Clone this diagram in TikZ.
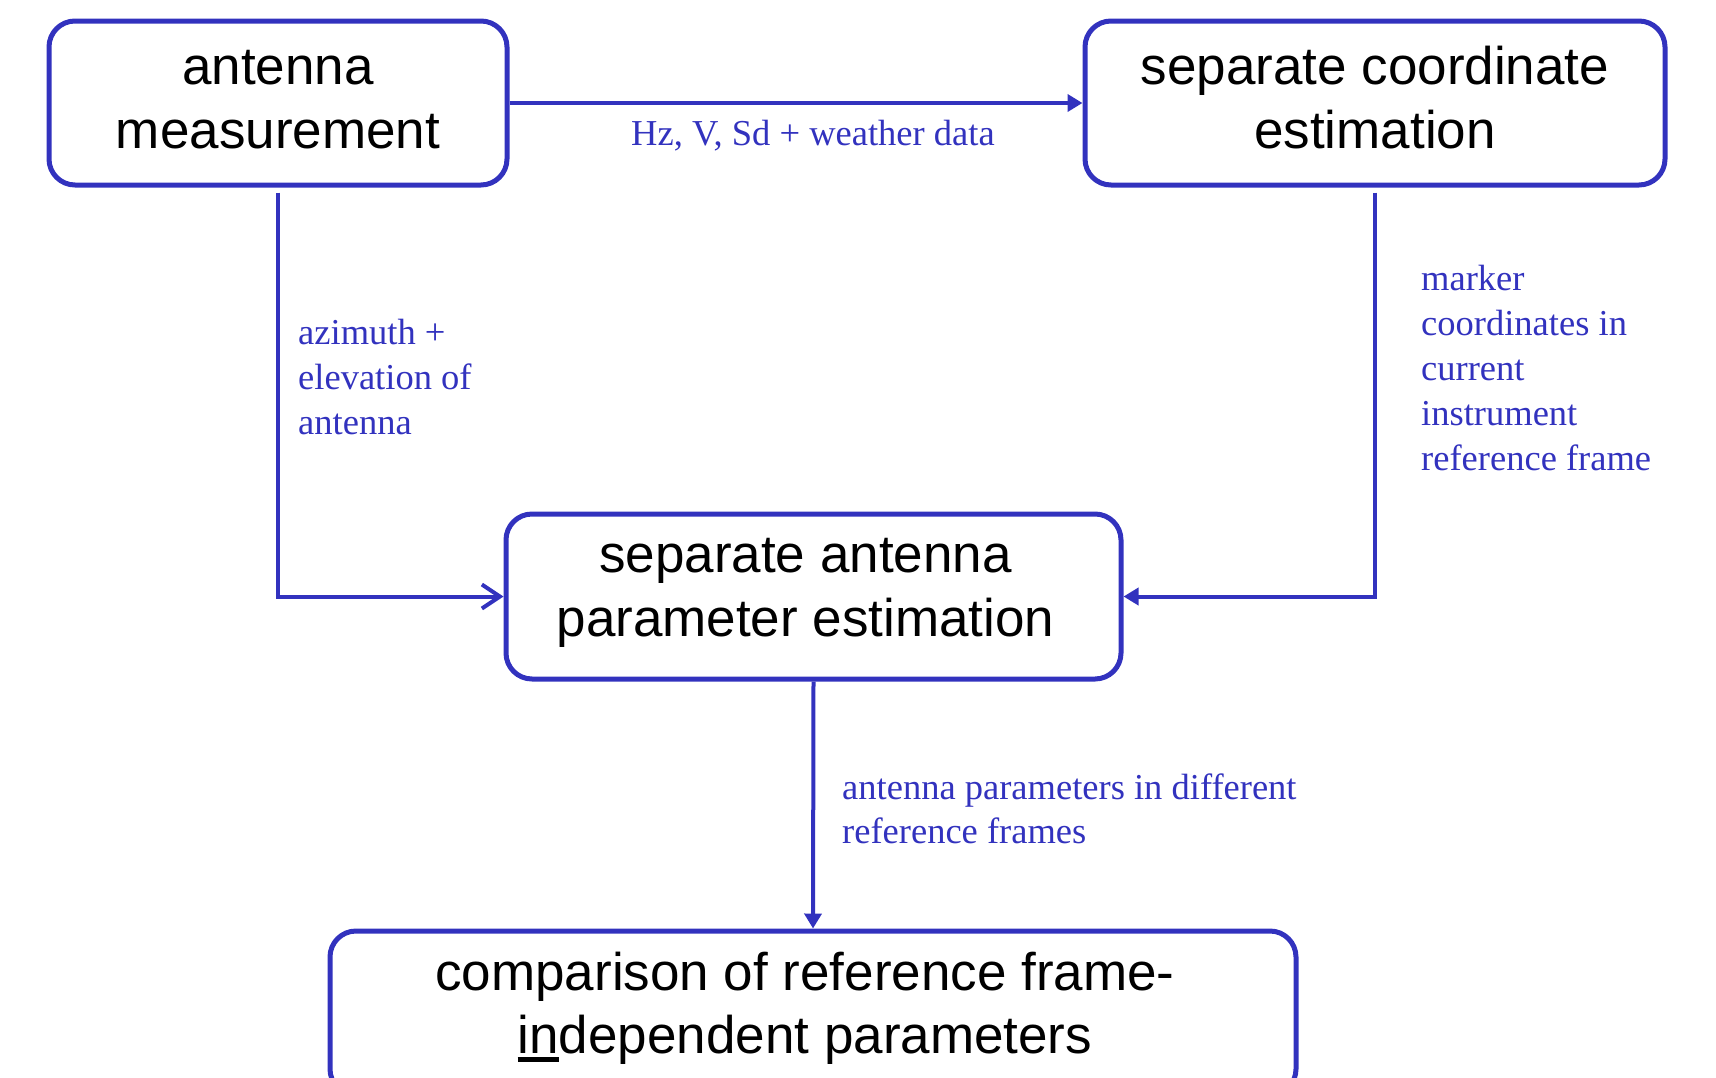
\documentclass[tikz,border=0pt]{standalone}
\usepackage{fontspec}
\setmainfont{Liberation Serif}
\newfontfamily\boxfont{Liberation Sans}
\usetikzlibrary{arrows.meta}
\definecolor{lineblue}{RGB}{50,50,190}
\newcommand\thickul[1]{\setbox0\hbox{#1}\rlap{\rule[-8pt]{\wd0}{4.5pt}}\box0}
\tikzset{
  box/.style={draw=lineblue, line width=5pt, rounded corners=26pt, inner sep=0pt},
  boxtext/.style={align=center, font=\boxfont\fontsize{53}{63.5}\selectfont, text=black, inner sep=0pt},
  conn/.style={draw=lineblue, line width=4pt},
  lbl/.style={text=lineblue, align=left, font=\fontsize{36.5}{45}\selectfont, inner sep=0pt},
  filltip/.style={-{Triangle[length=15pt,width=17pt]}},
  opentip/.style={-{Straight Barb[length=18pt,width=24pt,line width=4pt]}}
}
\begin{document}
\begin{tikzpicture}[x=1pt,y=-1pt]
\useasboundingbox (0,0) rectangle (1716,1077);
\clip (0,0) rectangle (1716,1077);
\node[box, minimum width=458pt, minimum height=164pt] (b1) at (278,103) {};
\node[box, minimum width=580pt, minimum height=164pt] (b2) at (1375,103) {};
\node[box, minimum width=615pt, minimum height=165pt] (b3) at (813.5,596.5) {};
\node[box, minimum width=966pt, minimum height=164pt] (b4) at (813,1013) {};

\node[boxtext] (t1) at ([yshift=3.5pt]b1.center) {antenna\\measurement};
\node[boxtext] (t2) at ([yshift=5.5pt]b2.center) {separate coordinate\\estimation};
\node[boxtext] (t3) at ([xshift=-8pt,yshift=3.5pt]b3.center) {separate antenna\\parameter estimation};
\node[boxtext] (t4) at ([xshift=-8pt,yshift=4.5pt]b4.center) {comparison of reference frame-\\\thickul{in}dependent parameters};

\draw[conn, filltip] (b1.east) -- (b2.west);
\draw[conn, opentip] ([yshift=-5pt]b1.south) |- (b3.west);
\draw[conn, filltip] ([yshift=-5pt]b2.south) |- (b3.east);
\draw[conn, filltip] (b3.south) -- (b4.north);

\node[lbl, anchor=base] (l1) at (813,145) {Hz, V, Sd + weather data};
\node[lbl, anchor=base west] (l2) at (298,344) {azimuth +};
\node[lbl, anchor=base west] (l2b) at (298,389) {elevation of};
\node[lbl, anchor=base west] (l2c) at (298,434) {antenna};
\node[lbl, anchor=base west] (l3) at (1421,290) {marker};
\node[lbl, anchor=base west] (l3b) at (1421,335) {coordinates in};
\node[lbl, anchor=base west] (l3c) at (1421,380) {current};
\node[lbl, anchor=base west] (l3d) at (1421,425) {instrument};
\node[lbl, anchor=base west] (l3e) at (1421,470) {reference frame};
\node[lbl, anchor=base west] (l4) at (842,799) {antenna parameters in different};
\node[lbl, anchor=base west] (l4b) at (842,843) {reference frames};
\end{tikzpicture}
\end{document}
